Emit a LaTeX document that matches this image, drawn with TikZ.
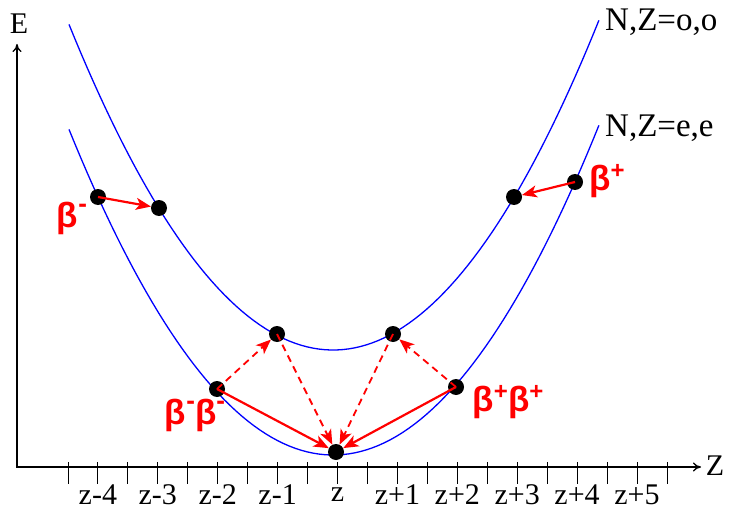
\documentclass[tikz,border=0pt]{standalone}
\usepackage{fontspec}
\setmainfont{Liberation Serif}
\newfontfamily\betafont{Liberation Sans}
\usetikzlibrary{arrows.meta}
\begin{document}
\begin{tikzpicture}[x=1pt,y=-1pt,
  dot/.style={circle,fill=black,inner sep=0pt,minimum size=16pt},
  curve/.style={blue,line width=1.3pt},
  axisline/.style={line width=1.3pt},
  tick/.style={line width=1pt},
  decay/.style={red,line width=2.2pt,-{Stealth[length=15pt,width=12pt,inset=4pt]}},
  ddecay/.style={decay,line width=1.8pt,dash pattern=on 7pt off 5pt},
  lbl/.style={inner sep=0pt,font=\fontsize{30}{30}\selectfont},
  clbl/.style={inner sep=0pt,font=\fontsize{33}{33}\selectfont},
  blbl/.style={inner sep=0pt,red,font=\betafont\bfseries\fontsize{35}{35}\selectfont}
]
\newcommand\supm{\raisebox{0.42em}{\fontsize{26}{26}\selectfont -}}
\newcommand\supp{\raisebox{0.32em}{\fontsize{24}{24}\selectfont +}}
\useasboundingbox (0,0) rectangle (731,516);
% axes
\coordinate (O) at (17,467);
\coordinate (Xend) at (701,467);
\coordinate (Yend) at (17,44);
\draw[axisline,{To[length=8pt,width=9pt]}-{To[length=8pt,width=9pt]}] (Yend) -- (O) -- (Xend);
\node[lbl] (E) at (19,24) {E};
\node[lbl] (Z) at (715,466) {Z};
\foreach \i in {0,...,20}
  \draw[tick] ({68+29.95*\i},462) -- ({68+29.95*\i},484);
\foreach \k/\t in {-4/z-4,-3/z-3,-2/z-2,-1/z-1,0/z,1/z+1,2/z+2,3/z+3,4/z+4,5/z+5}
  \node[lbl] (t\k) at ({337.5+59.9*\k},495) {\t};
% curves
\draw[curve] plot[domain=-2.66:2.64,samples=90] ({335+100*\x},{350-46.67*\x*\x-1.745*\x});
\draw[curve] plot[domain=-2.66:2.64,samples=90] ({335+100*\x},{455-46.67*\x*\x-1.745*\x});
\node[clbl,anchor=west] (oo) at (605,22) {N,Z=o,o};
\node[clbl,anchor=west] (ee) at (605,128) {N,Z=e,e};
% dots
\node[dot] (m4) at (98,197) {};
\node[dot] (m3) at (159,208) {};
\node[dot] (m2) at (217,389) {};
\node[dot] (m1) at (277,334) {};
\node[dot] (c)  at (336,452) {};
\node[dot] (p1) at (393,334) {};
\node[dot] (p2) at (456,387) {};
\node[dot] (p3) at (514,197) {};
\node[dot] (p4) at (575,182) {};
% decays
\draw[decay] (m4.center) -- (m3);
\draw[decay] (p4.center) -- (p3);
\draw[ddecay] (m2.center) -- (m1);
\draw[ddecay] (m1.center) -- (c);
\draw[ddecay] (p1.center) -- (c);
\draw[ddecay] (p2.center) -- (p1);
\draw[decay] (m2.center) -- (c);
\draw[decay] (p2.center) -- (c);
% labels
\node[blbl] (bm) at (72,218) {β\supm};
\node[blbl] (bp) at (607,181) {β\supp};
\node[blbl] (bmm) at (195,415) {β\supm β\supm};
\node[blbl] (bpp) at (508,402) {β\supp β\supp};
\end{tikzpicture}
\end{document}
